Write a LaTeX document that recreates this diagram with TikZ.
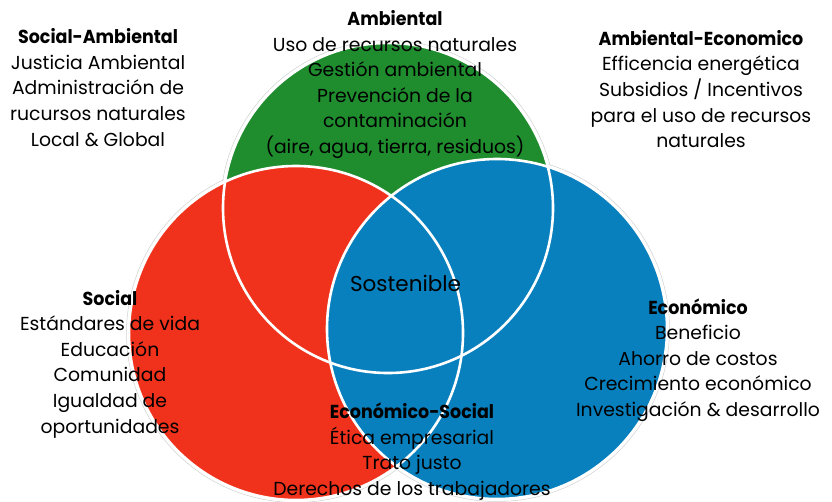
\documentclass[tikz,border=0pt]{standalone}
\usepackage{fontspec}
\setmainfont{Poppins}[BoldFeatures={FakeStretch=0.93}]
\begin{document}
\begin{tikzpicture}[x=1pt,y=-1pt,
  blk/.style={align=center,inner sep=0pt,font=\fontsize{18.8}{25.6}\selectfont},
  ring/.style={draw=white,line width=2.6pt},
  halo/.style={draw=black!18,line width=0.5pt}]
\definecolor{cgreen}{RGB}{31,141,46}
\definecolor{cred}{RGB}{240,50,28}
\definecolor{cblue}{RGB}{8,128,190}
\fill[white] (0,0) rectangle (832,501);
\useasboundingbox (0,0) rectangle (832,501);
\coordinate (g) at (388,208);
\coordinate (r) at (296,333);
\coordinate (b) at (497,329);
\draw[halo] (g) circle[radius=167.5];
\draw[halo] (r) circle[radius=169.5];
\draw[halo] (b) circle[radius=172.5];
\fill[cgreen] (g) circle[radius=165];
\fill[cred] (r) circle[radius=167];
\fill[cblue] (b) circle[radius=170];
\draw[ring] (g) circle[radius=165];
\draw[ring] (r) circle[radius=167];
\draw[ring] (b) circle[radius=170];
\node[blk] (amb) at (395,84.5) {\textbf{Ambiental}\\Uso de recursos naturales\\Gestión ambiental\\Prevención de la\\contaminación\\(aire, agua, tierra, residuos)};
\node[blk] (sa) at (98,87.5) {\textbf{Social-Ambiental}\\Justicia Ambiental\\Administración de\\rucursos naturales\\Local \& Global};
\node[blk] (ae) at (701,89) {\textbf{Ambiental-Economico}\\Efficencia energética\\Subsidios / Incentivos\\para el uso de recursos\\naturales};
\node[blk] (soc) at (110,364) {\textbf{Social}\\Estándares de vida\\Educación\\Comunidad\\Igualdad de\\oportunidades};
\node[blk] (eco) at (698,360) {\textbf{Económico}\\Beneficio\\Ahorro de costos\\Crecimiento económico\\Investigación \& desarrollo};
\node[blk] (es) at (412,451.5) {\textbf{Económico-Social}\\Ética empresarial\\Trato justo\\Derechos de los trabajadores};
\node[blk,font=\fontsize{21.5}{25.6}\selectfont] (sos) at (405.5,283) {Sostenible};
\end{tikzpicture}
\end{document}
